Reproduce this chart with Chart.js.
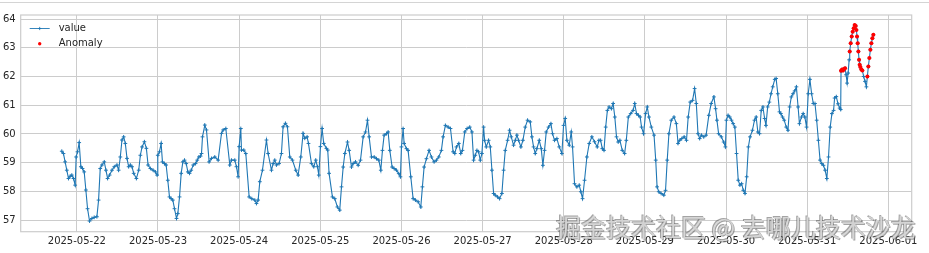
<!DOCTYPE html>
<html>
<head>
<meta charset="utf-8">
<script src="https://cdn.jsdelivr.net/npm/chart.js@4"></script>
<style>
  html, body { margin: 0; padding: 0; background: #ffffff; }
  #wrap { position: relative; width: 929px; height: 253px; overflow: hidden; }
  #topline { position: absolute; left: 0; top: 2px; width: 929px; height: 1px; background: #d4d4d4; }
  #wm { position: absolute; left: 556px; top: 214px; font-family: "Noto Sans CJK SC", sans-serif;
        font-size: 25px; line-height: 25px; white-space: nowrap; color: rgba(215,215,215,0.95);
        text-shadow: -1px -1px 0 rgba(90,90,90,0.55), 1px 1px 0 rgba(90,90,90,0.55); pointer-events: none; }
</style>
</head>
<body>
<div id="wrap">
  <canvas id="c" width="929" height="253"></canvas>
  <div id="topline"></div>
  <div id="wm">掘金技术社区 @ 去哪儿技术沙龙</div>
</div>
<script>
// hours since 2025-05-22 00:00
const hours = [
-4.45,-3.96,-3.46,-2.97,-2.47,-1.98,-1.48,-0.99,-0.49,-0.2,0.2,0.69,1.19,1.68,2.18,2.67,3.17,3.76,4.45,5.14,5.93,6.43,6.92,7.42,8.11,8.61,9.1,9.69,10.39,11.08,11.87,12.36,12.86,13.35,13.85,14.34,14.84,15.33,15.83,16.32,16.82,17.61,18.3,18.79,19.29,19.98,20.57,21.07,21.76,22.55,23.24,23.74,23.94,24.43,24.93,25.32,25.91,26.41,26.9,27.4,27.89,28.39,28.88,29.48,29.87,30.37,30.86,31.36,31.85,32.35,32.84,33.33,33.83,34.42,35.11,35.61,36.1,36.6,
36.87,37.16,37.85,38.34,39.13,39.82,40.8,41.79,42.78,43.27,44.06,45.24,45.73,46.72,47.21,47.7,48.0,48.49,48.69,49.38,49.97,50.96,51.74,52.63,53.12,53.62,54.11,54.9,56.08,56.57,57.56,58.05,58.54,59.03,59.82,60.51,61.0,61.69,62.28,62.98,63.76,64.75,65.44,66.23,66.92,67.41,68.1,68.5,69.39,70.07,70.67,71.16,71.56,72.04,72.53,73.02,73.81,74.2,74.6,75.59,76.28,77.06,77.75,
78.27,78.77,79.26,80.05,80.54,81.23,81.72,82.41,83.2,83.89,84.68,85.37,85.96,86.45,87.14,87.93,88.62,89.31,89.9,90.38,90.88,91.57,92.06,92.56,93.24,93.83,94.52,95.21,95.7,96.0,96.49,96.79,97.48,97.97,98.76,99.45,100.14,100.93,101.72,102.2,102.7,103.39,104.17,104.87,105.66,106.35,107.04,107.82,108.32,109.0,109.8,110.5,111.28,111.77,112.27,112.96,113.55,114.04,114.73,115.42,116.2,
116.85,117.34,117.83,118.33,118.82,119.31,119.8,120.3,120.59,121.08,121.77,122.27,122.76,123.25,123.74,124.43,125.02,125.71,126.21,126.7,127.39,127.98,128.47,129.16,129.66,130.15,130.64,131.33,131.92,132.61,133.3,134.09,134.58,135.07,135.57,136.06,136.75,137.34,137.83,138.32,138.82,139.51,140.2,140.69,141.28,141.97,142.66,143.45,143.94,144.43,144.93,145.62,146.21,146.6,147.19,147.88,148.57,149.06,149.56,150.15,150.84,151.53,152.32,153.1,
153.9,154.4,154.9,155.4,155.9,156.4,156.9,157.4,158.1,158.6,159.1,159.6,160.1,160.6,161.3,162.0,162.5,163.1,163.8,164.5,165.0,165.5,166.1,166.6,167.0,167.6,168.2,168.7,169.2,169.9,170.7,171.2,171.6,172.1,172.8,173.6,174.1,174.6,175.1,175.8,176.6,177.3,177.8,178.3,178.9,179.6,180.3,180.8,181.4,182.1,182.7,183.2,183.7,184.2,184.7,185.4,186.1,186.9,187.6,188.4,188.9,189.3,189.8,190.6,191.3,191.8,
192.1,192.6,193.1,193.6,194.1,194.6,195.1,195.6,196.1,196.6,197.1,197.6,198.1,198.6,199.1,199.8,200.4,200.9,201.4,201.9,202.4,202.9,203.4,203.8,204.3,204.8,205.3,205.8,206.4,206.8,207.3,207.8,208.2,208.7,209.2,209.8,210.3,210.8,211.3,211.8,212.3,212.8,213.3,213.7,214.3,214.8,215.3,215.8,216.3,216.8,217.3,217.8,218.3,218.8,219.3,219.8,220.3,220.8,221.3,221.8,222.3,222.8,223.3,223.8,
224.1,224.6,225.1,225.6,225.9,226.0,226.3,226.6,226.9,227.2,227.5,227.8,228.1,228.4,228.57,228.86,229.16,229.45,229.75,230.04,230.34,230.54,230.73,230.93,231.13,231.33,231.52,231.72,232.02,232.31,232.7,233.1,233.5,233.79,234.08,234.38,234.68,234.97,235.27,235.56
];
const values = [
59.40,59.32,59.03,58.74,58.45,58.53,58.57,58.45,58.22,59.2,59.38,59.7,58.86,58.8,58.68,58.05,57.4,56.97,57.06,57.1,57.12,57.7,58.8,58.92,59.03,58.74,58.45,58.57,58.74,58.86,58.92,58.74,59.2,59.79,59.9,59.67,59.15,58.86,58.92,58.86,58.63,58.45,58.74,59.26,59.55,59.73,59.5,58.92,58.8,58.74,58.68,58.57,59.26,59.38,59.67,59.03,58.97,58.92,58.39,57.81,57.75,57.7,57.4,57.06,57.23,57.81,58.63,59.03,59.09,58.97,58.68,58.63,58.74,58.92,58.97,59.09,59.2,59.23,
59.32,59.9,60.31,60.14,59.03,59.15,59.2,59.09,60.02,60.14,60.19,58.92,59.09,59.09,58.86,58.51,59.56,60.19,59.44,59.44,59.32,57.81,57.75,57.7,57.58,57.7,58.34,58.74,59.79,59.32,58.74,58.97,59.09,58.92,58.97,59.32,60.25,60.37,60.25,59.2,59.09,58.74,58.57,59.2,60.02,59.85,59.9,59.67,58.97,58.86,59.09,58.86,58.57,59.56,60.19,59.67,59.5,59.44,58.63,57.81,57.75,57.46,57.35,
58.16,58.85,59.32,59.72,59.43,58.85,58.97,59.03,58.91,59.09,59.9,60.07,60.48,59.9,59.2,59.2,59.14,59.09,58.74,59.43,59.96,60.01,60.07,59.43,58.85,58.8,58.74,58.62,58.51,59.55,60.19,59.67,59.49,59.43,58.51,57.75,57.7,57.64,57.46,58.16,58.85,59.14,59.43,59.2,59.03,59.09,59.2,59.43,59.9,60.3,60.24,60.19,59.38,59.32,59.55,59.67,59.32,59.43,60.07,60.19,60.24,
60.07,59.09,59.26,59.43,59.38,59.09,59.32,60.24,59.78,59.55,59.78,59.55,58.74,57.93,57.87,57.81,57.75,57.93,58.74,59.43,59.78,60.13,59.9,59.61,59.78,59.96,59.78,59.55,59.78,60.24,60.48,60.42,59.9,59.55,59.32,59.49,59.78,59.49,58.91,59.43,60.07,60.24,60.36,60.01,59.78,59.84,59.55,59.32,60.3,60.54,59.78,59.61,60.07,59.55,58.27,58.16,58.22,57.99,57.75,58.39,59.2,59.67,59.9,59.73,
59.55,59.78,59.78,59.49,59.43,60.24,60.82,60.94,60.88,61.06,60.59,59.9,59.72,59.78,59.43,59.32,59.78,60.59,60.71,60.82,61.06,60.71,60.65,60.59,60.24,60.01,60.71,60.94,60.59,60.24,59.96,59.09,58.16,57.99,57.93,57.87,58.04,59.09,60.01,60.48,60.59,60.36,59.67,59.78,59.84,59.9,59.78,60.59,61.11,61.17,61.58,61.06,60.01,59.84,59.96,59.9,59.96,60.65,61.06,61.29,60.88,60.48,60.01,59.9,59.72,59.55,
60.48,60.65,60.59,60.48,60.36,60.24,59.32,58.39,58.22,58.27,58.04,57.93,58.51,59.55,59.9,60.13,60.48,60.59,60.07,60.01,60.82,60.94,60.54,60.3,60.94,61.11,61.4,61.64,61.9,61.93,61.4,60.77,60.71,60.59,60.48,60.24,60.13,60.94,61.29,61.4,61.5,61.64,60.94,60.36,60.59,60.71,60.59,60.24,61.4,61.9,61.4,61.06,61.06,60.48,59.78,59.09,58.97,58.91,58.74,58.45,59.2,60.24,60.71,60.82,
61.25,61.3,61.05,60.9,60.85,62.2,62.24,62.21,62.26,62.29,62.06,61.77,62.12,62.58,62.87,63.16,63.39,63.56,63.68,63.79,63.76,63.62,63.39,63.16,62.87,62.58,62.41,62.33,62.24,62.21,62.0,61.83,61.64,62.0,62.35,62.64,62.93,63.16,63.33,63.45
];
const anomalyHours = [226.0,226.3,226.6,226.9,227.2,228.57,228.86,229.16,229.45,229.75,230.04,230.34,230.54,230.73,230.93,231.13,231.33,231.52,231.72,232.02,232.31,233.79,234.08,234.38,234.68,234.97,235.27,235.56];
const anomalyValues = [62.2,62.24,62.21,62.26,62.29,62.87,63.16,63.39,63.56,63.68,63.79,63.76,63.62,63.39,63.16,62.87,62.58,62.41,62.33,62.24,62.21,62.0,62.35,62.64,62.93,63.16,63.33,63.45];
const xTickHours = [0,24,48,72,96,120,144,168,192,216,240];
const xTickLabels = ['2025-05-22','2025-05-23','2025-05-24','2025-05-25','2025-05-26','2025-05-27','2025-05-28','2025-05-29','2025-05-30','2025-05-31','2025-06-01'];
const yTicks = [57,58,59,60,61,62,63,64];
const seriesNames = ['value','Anomaly'];

const BLUE = '#1f77b4', RED = '#ff0000', GRID = '#cccccc', TXT = '#262626';
const FONT = { family: 'DejaVu Sans', size: 10 };

const frameAndLegend = {
  id: 'frameAndLegend',
  afterDatasetsDraw(chart) {
    const { ctx, chartArea: a } = chart;
    ctx.save();
    ctx.strokeStyle = GRID; ctx.lineWidth = 1.2;
    ctx.strokeRect(a.left, a.top, a.right - a.left, a.bottom - a.top);
    // legend (inside, upper left, no frame)
    const lx0 = a.left + 9, lx1 = a.left + 29, tx = a.left + 38;
    const y1 = a.top + 13.5, y2 = a.top + 28.7;
    ctx.strokeStyle = BLUE; ctx.lineWidth = 0.9;
    ctx.beginPath(); ctx.moveTo(lx0, y1); ctx.lineTo(lx1, y1); ctx.stroke();
    const mx = (lx0 + lx1) / 2;
    ctx.beginPath(); ctx.moveTo(mx - 1.6, y1); ctx.lineTo(mx + 1.6, y1); ctx.moveTo(mx, y1 - 1.6); ctx.lineTo(mx, y1 + 1.6); ctx.stroke();
    ctx.fillStyle = RED;
    ctx.beginPath(); ctx.arc(mx, y2, 1.7, 0, Math.PI * 2); ctx.fill();
    ctx.fillStyle = TXT; ctx.font = '10px "DejaVu Sans"'; ctx.textBaseline = 'middle'; ctx.textAlign = 'left';
    ctx.fillText(seriesNames[0], tx, y1);
    ctx.fillText(seriesNames[1], tx, y2);
    ctx.restore();
  }
};

new Chart(document.getElementById('c'), {
  type: 'line',
  data: {
    datasets: [
      {
        label: seriesNames[1], type: 'scatter', order: 0,
        data: anomalyHours.map((h, i) => ({ x: h, y: anomalyValues[i] })),
        showLine: false, pointStyle: 'circle', pointRadius: 2, pointBorderWidth: 0,
        backgroundColor: RED, borderColor: RED
      },
      {
        label: seriesNames[0], order: 1,
        data: hours.map((h, i) => ({ x: h, y: values[i] })),
        borderColor: BLUE, borderWidth: 1.1, tension: 0,
        pointStyle: 'cross', pointRadius: 1.9, pointBorderWidth: 1,
        pointBorderColor: BLUE, pointBackgroundColor: BLUE
      }
    ]
  },
  options: {
    responsive: false, animation: false, devicePixelRatio: 1,
    layout: { padding: { left: 0, top: 15, right: 17.3, bottom: 0 } },
    plugins: { legend: { display: false }, tooltip: { enabled: false } },
    scales: {
      x: {
        type: 'linear', min: -16.6, max: 246.9,
        afterBuildTicks: s => { s.ticks = xTickHours.map(v => ({ value: v })); },
        afterFit: s => { s.height = 21.3; },
        grid: { color: GRID, lineWidth: 1, drawTicks: false },
        border: { display: false },
        ticks: { font: FONT, color: TXT, padding: 4, maxRotation: 0, autoSkip: false,
                 callback: v => xTickLabels[xTickHours.indexOf(v)] }
      },
      y: {
        type: 'linear', min: 56.6, max: 64.14,
        afterBuildTicks: s => { s.ticks = yTicks.map(v => ({ value: v })); },
        afterFit: s => { s.width = 20.7; },
        grid: { color: GRID, lineWidth: 1, drawTicks: false },
        border: { display: false },
        ticks: { font: FONT, color: TXT, padding: 5, callback: v => String(v) }
      }
    }
  },
  plugins: [frameAndLegend]
});
</script>
</body>
</html>
